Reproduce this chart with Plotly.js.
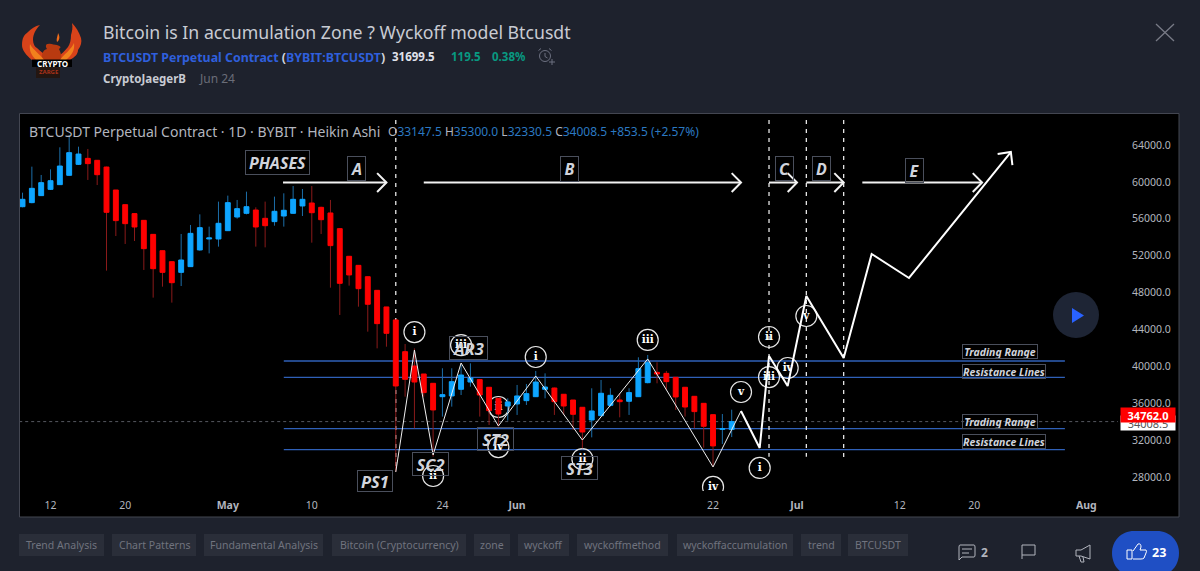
<!DOCTYPE html>
<html>
<head>
<meta charset="utf-8">
<script src="https://cdn.plot.ly/plotly-3.0.1.min.js"></script>
<style>html,body{margin:0;padding:0;background:#1e222d;overflow:hidden}#chart{width:1200px;height:571px}</style>
</head>
<body>
<div id="chart"></div>
<script>
// ---- candles (Heikin Ashi) ----
const dates = ['2021-04-09','2021-04-10','2021-04-11','2021-04-12','2021-04-13','2021-04-14','2021-04-15','2021-04-16','2021-04-17','2021-04-18','2021-04-19','2021-04-20','2021-04-21','2021-04-22','2021-04-23','2021-04-24','2021-04-25','2021-04-26','2021-04-27','2021-04-28','2021-04-29','2021-04-30',
'2021-05-01','2021-05-02','2021-05-03','2021-05-04','2021-05-05','2021-05-06','2021-05-07','2021-05-08','2021-05-09','2021-05-10','2021-05-11','2021-05-12','2021-05-13','2021-05-14','2021-05-15','2021-05-16','2021-05-17','2021-05-18','2021-05-19','2021-05-20','2021-05-21','2021-05-22','2021-05-23','2021-05-24','2021-05-25','2021-05-26','2021-05-27','2021-05-28','2021-05-29','2021-05-30','2021-05-31',
'2021-06-01','2021-06-02','2021-06-03','2021-06-04','2021-06-05','2021-06-06','2021-06-07','2021-06-08','2021-06-09','2021-06-10','2021-06-11','2021-06-12','2021-06-13','2021-06-14','2021-06-15','2021-06-16','2021-06-17','2021-06-18','2021-06-19','2021-06-20','2021-06-21','2021-06-22','2021-06-23','2021-06-24'];
const opens = [57310,57750,58510,59190,59700,60710,61900,62550,62340,61610,59120,57530,56560,55830,54310,52540,51350,50190,50810,52620,53810,53810,
54710,56190,56590,56950,56050,55690,56300,56590,57390,57710,57240,56630,54930,51930,50950,49720,48240,46440,45030,41590,40040,39170,38160,36710,36790,37510,38300,38560,37730,36530,35700,
35920,36280,36710,37510,37650,36970,36350,35560,34180,34650,35770,36350,36210,36710,38230,39350,39240,38810,37730,36750,35990,34760,33170,33147.5];
const closes = [58110,59300,59920,60130,61720,63170,63020,61980,60780,56700,55800,55470,55110,52760,50590,50190,49070,51530,54420,55040,53920,55510,
57750,57100,57310,55110,55250,56810,56920,58110,58110,56660,55900,53090,49000,49910,48420,46730,44630,43580,37870,38590,38300,37150,35270,36930,38340,39060,38740,36890,35200,34830,36140,
36790,37040,38300,37760,36170,35700,34800,32880,35160,37080,36860,36170,37150,39750,40400,39170,38340,36680,35590,35090,33500,31370,33240,34008.5];
const highs = [58830,61650,60750,61360,63750,65080,63820,63570,62370,61650,59120,57530,56590,55870,54350,52540,51350,54350,55330,56480,55150,57860,
58510,58040,58940,57240,57860,58400,58760,59550,59230,59550,57310,58040,54970,51970,50950,49720,48240,46440,45030,42420,41950,39170,38160,39790,39790,40150,40330,38590,37730,36530,36530,
37980,38090,39500,39240,37690,36970,36350,35560,37620,38520,37620,37080,37620,40980,41230,40440,39500,38810,37730,36750,35990,34760,34830,35300];
const lows = [57240,57680,58470,59120,59660,60680,61830,60210,59660,50380,54130,53270,53590,50450,47450,48640,46910,48710,50770,52540,52250,52980,
54680,56010,56480,52980,52900,55250,55150,56560,56300,53410,54350,48530,45570,48750,46470,43760,41950,42130,28580,36710,33280,36710,30210,34550,35630,36890,37800,34550,33640,33460,34110,
34730,35810,36680,36530,34730,34730,33100,31110,32300,34620,35630,34470,34730,36680,38160,38160,37440,35270,34550,33280,31180,29120,31580,32330.5];

// ---- wave lines ----
const waveThinDates = ['2021-05-19','2021-05-21','2021-05-23','2021-05-26','2021-05-30','2021-06-03','2021-06-08','2021-06-15','2021-06-22','2021-06-25'];
const waveThinPrices = [28540,41770,30390,40360,33530,38950,32010,40800,29090,35160];
const waveBoldDates = ['2021-06-25','2021-06-27','2021-06-28','2021-06-30','2021-07-02','2021-07-06','2021-07-09','2021-07-13','2021-07-23 22:00'];
const waveBoldPrices = [35160,31150,41120,37870,47630,40900,52180,49580,63240];
const waveHeadDates = ['2021-07-22 12:00','2021-07-23 22:00','2021-07-24 02:00'];
const waveHeadPrices = [63020,63240,61830];

// ---- support / resistance levels ----
const levelPrices = [40580,38810,33240,30960];
const levelStart = '2021-05-07';
const levelEnd = '2021-07-29 17:00';
const lastClose = 34008.5;
const lastPriceTag = 34762;

// ---- phase separators and arrows ----
const phaseLineDates = ['2021-05-19','2021-06-28','2021-07-02','2021-07-06'];
const phaseLineBottoms = [28650,30200,30200,30000];
const phaseLineTop = 66700;
const arrowStart = ['2021-05-06 22:00','2021-05-22','2021-06-28','2021-07-02','2021-07-08'];
const arrowTip = ['2021-05-18','2021-06-25','2021-07-01','2021-07-06','2021-07-20 20:00'];
const arrowBack = ['2021-05-17','2021-06-24','2021-06-30','2021-07-05','2021-07-19 20:00'];
const arrowPrice = 59930;
const arrowHeadSpread = 1020;

// ---- circled wave counts ----
const countDates = ['2021-05-21','2021-05-26','2021-05-30','2021-05-30','2021-05-23','2021-06-03','2021-06-08','2021-06-15','2021-06-22','2021-06-25','2021-06-27','2021-06-28','2021-06-28','2021-06-30','2021-07-02'];
const countPrices = [43720,42310,35590,31250,28110,41010,29950,42860,26920,37220,28980,43180,38840,39820,45460];
const countLabels = ['i','iii','ii','iv','ii','i','ii','iii','iv','v','i','ii','iii','iv','v'];

// ---- boxed labels ----
const boxLabels = ['PHASES','A','B','C','D','E','AR3','SC2','PS1','ST2','ST3','Trading Range','Resistance Lines','Trading Range','Resistance Lines'];
const boxDates = ['2021-05-06 07:00','2021-05-14 18:00','2021-06-06 16:00','2021-06-29 17:00','2021-07-03 16:00','2021-07-13 15:00','2021-05-26 19:00','2021-05-22 18:00','2021-05-16 18:00','2021-05-29 17:00','2021-06-07 17:00','2021-07-22 18:00','2021-07-23 05:00','2021-07-22 18:00','2021-07-23 05:00'];
const boxPrices = [62050,61470,61400,61400,61400,61200,41990,29410,27570,32120,28980,41640,39440,34050,31850];
const boxFontSizes = [16,16,16,16,16,16,16.5,16.5,16.5,16.5,16.5,10.5,10.5,10.5,10.5];
const boxWidths = [63,17,17,17,17,17,37,35,34,35,35,74,82,74,82];
const boxHeights = [23,23,24,23,23,23,22,22,20,22,22,13,13,13,13];

// ---- axes ----
const xTickDates = ['2021-04-12','2021-04-20','2021-05-01','2021-05-10','2021-05-24','2021-06-01','2021-06-22','2021-07-01','2021-07-12','2021-07-20','2021-08-01'];
const xTickLabels = ['12','20','<b>May</b>','10','24','<b>Jun</b>','22','<b>Jul</b>','12','20','<b>Aug</b>'];
const priceTicks = [28000,32000,36000,40000,44000,48000,52000,56000,60000,64000];
const xRange = ['2021-04-08 17:30','2021-08-04 09:36'];
const yRange = [26483,67361];

// ---- page text ----
const tagLabels = ['Trend Analysis','Chart Patterns','Fundamental Analysis','Bitcoin (Cryptocurrency)','zone','wyckoff','wyckoffmethod','wyckoffaccumulation','trend','BTCUSDT'];
const tagLeft = [19,112,204,332,474,518,577,677,801,848];
const tagRight = [104,196,323,466,510,569,668,793,841,908];

// ---- geometry helpers for page furniture ----
const W = 1200, H = 571, ML = 20, MR = 82, MT = 114, MB = 80;
const fx = x => (x - ML) / (W - ML - MR);
const fy = y => 1 - (y - MT) / (H - MT - MB);
// page-pixel path -> paper path (M L C Q H V Z, absolute)
const pxPath = s => {
  const toks = s.match(/[A-Za-z]|-?[\d.]+/g);
  let out = '', cmd = '', n = 0;
  for (const t of toks) {
    if (/[A-Za-z]/.test(t)) { cmd = t; n = 0; out += t; continue; }
    const v = +t;
    let val;
    if (cmd === 'H') val = fx(v);
    else if (cmd === 'V') val = fy(v);
    else { val = n % 2 === 0 ? fx(v) : fy(v); }
    out += (n ? ',' : '') + val;
    n++;
  }
  return out;
};
const FONT = '"Noto Sans", sans-serif';
const GREY = '#b2b5be';

const shapes = [];
const rect = (x0, y0, x1, y1, fill, line, layer) => shapes.push({type:'rect', xref:'paper', yref:'paper', x0:fx(x0), x1:fx(x1), y0:fy(y1), y1:fy(y0), fillcolor:fill, line:{color:line||'rgba(0,0,0,0)', width:line?1:0}, layer:layer||'below'});
const path = (d, fill, line, w, layer) => shapes.push({type:'path', xref:'paper', yref:'paper', path:pxPath(d), fillcolor:fill||'rgba(0,0,0,0)', line:{color:line||'rgba(0,0,0,0)', width:line?(w||1):0}, layer:layer||'above'});
const circ = (cx, cy, r, fill, line, w, layer) => shapes.push({type:'circle', xref:'paper', yref:'paper', x0:fx(cx-r), x1:fx(cx+r), y0:fy(cy+r), y1:fy(cy-r), fillcolor:fill||'rgba(0,0,0,0)', line:{color:line||'rgba(0,0,0,0)', width:line?(w||1):0}, layer:layer||'above'});

// chart panel
rect(19.5, 113.5, 1179, 517, '#000000', '#434651');

// close button
path('M1156,24 L1174,41 M1174,24 L1156,41', null, '#787b86', 1.3);

// logo
path('M32,60 C26,55 22,50 22,45 C22,38 24,35 28,32 C31,29 35,26 40,25 C36,29 33,34 33,40 C33,44 35,47 37,48 C41,52 45,54 47,57 L46,61 Z', '#d8431a');
path('M70,60 C75,57 78,54 78,50 C81,46 82,42 81,38 C79,32 76,27 72,23 C73,28 72,31 71,35 C71,40 70,44 68,47 C65,51 61,54 58,57 L58,61 Z', '#d8431a');
path('M42,61 C41,54 43,50 47,49 C45,46 46,44 48,44 C51,43 54,45 57,45 C60,46 62,47 59,49 C61,53 62,57 61,61 Z', '#b93a10');
path('M36,60 C31,55 29,50 30,44 C33,50 40,54 44,60 Z', '#f2811d');
path('M66,60 C72,55 75,50 74,43 C71,50 64,54 60,60 Z', '#f2811d');
path('M57,42 C56,38 58,36 58,33 C60,36 60,40 57,42 Z', '#ef6c1a');
rect(32, 59.5, 72, 67, '#000000', null, 'above');
rect(36, 67, 60, 78, '#241611', null, 'above');

// alarm icon
circ(545, 56, 5.5, null, '#6c7080', 1);
path('M541,48.5 L538.5,50.5 M549,48.5 L551.5,50.5 M545,53 V56.5 L547.5,58 M552,59 V65 M549,62 H555', null, '#6c7080', 1);

// tags
tagLabels.forEach((t, i) => rect(tagLeft[i], 534, tagRight[i], 556, '#2a2e39'));

// footer icons
path('M960,545 H974 Q975,545 975,547 V555 Q975,557 974,557 H962 L959,560 V547 Q959,545 960,545 Z M962,549 H972 M962,553 H969', null, GREY, 1);
path('M1022,559 V545 H1035 V555 H1022', null, GREY, 1);
path('M1090,545 L1081,550 H1076 V556 H1081 L1090,559 Z M1079,556 L1081,562 H1084 L1083,557', null, GREY, 1);
path('M1134,531 H1157 C1170,531 1179,541 1179,553 C1179,566 1170,576 1157,576 H1134 C1121,576 1112,566 1112,553 C1112,541 1121,531 1134,531 Z', '#1f4fc4');
path('M1127,550 H1132 V559 H1127 Z M1133,551 L1138,544 Q1141,543 1141,547 L1140,550 H1146 Q1147,551 1146,553 L1144,558 Q1143,559 1141,559 H1133', null, '#ffffff', 1);

// play button
circ(1076, 315, 23, '#1e2535');
path('M1072,308 L1084,315.5 L1072,323 Z', '#2962ff');

// tick beside the price tag
path('M1122,415 H1125', null, '#ffffff', 1);

// text helper (page position)
const annotations = [];
const pageText = (x, y, text, size, color, anchor, extra) => annotations.push(Object.assign({
  xref:'paper', yref:'paper', x:fx(x), y:fy(y), xanchor:anchor||'left', yanchor:'middle', showarrow:false,
  text, font:{family:FONT, size, color}, align:anchor||'left', borderpad:0
}, extra||{}));

pageText(101.5, 32, 'Bitcoin is In accumulation Zone ? Wyckoff model Btcusdt', 17.7, '#c8cbd3');
pageText(102, 57, '<b><span style="color:#2f5fdc">BTCUSDT Perpetual Contract</span> (<span style="color:#2f5fdc">BYBIT:BTCUSDT</span>)</b>', 12.4, '#d1d4dc');
pageText(391, 56, '<b>31699.5</b>', 11.5, '#e0e3eb');
pageText(450, 56, '<b>119.5</b>', 11.5, '#089981');
pageText(491, 56, '<b>0.38%</b>', 11.5, '#089981');
pageText(102, 78, '<b>CryptoJaegerB</b>', 11.5, '#c8cbd3');
pageText(198, 78, 'Jun 24', 12, '#6a6d78');
pageText(28, 131, 'BTCUSDT Perpetual Contract · 1D · BYBIT · Heikin Ashi', 14, GREY);
const V = s => '<span style="color:#2b79c2">' + s + '</span>';
pageText(387, 131, 'O' + V('33147.5') + ' H' + V('35300.0') + ' L' + V('32330.5') + ' C' + V('34008.5') + V(' +853.5 (+2.57%)'), 12, GREY);
tagLabels.forEach((t, i) => pageText((tagLeft[i] + tagRight[i]) / 2, 545, t, 10.5, '#70737e', 'center'));
pageText(984, 552, '<b>2</b>', 12, GREY, 'center');
pageText(1159, 552, '<b>23</b>', 12.5, '#ffffff', 'center');
pageText(52, 63.3, '<b>CRYPTO</b>', 8, '#ffffff', 'center');
pageText(48, 72, '<b>ZARGE</b>', 6, '#a8321a', 'center');

// boxed chart labels
boxLabels.forEach((t, i) => {
  annotations.push({xref:'x', yref:'y', x:boxDates[i], y:boxPrices[i], xanchor:'center', yanchor:'middle', showarrow:false,
    text:t, font:{family:FONT, size:boxFontSizes[i], color:'#d1d4dc', style:'italic', weight:700},
    width:boxWidths[i], height:boxHeights[i], align:'center', valign:'middle',
    bordercolor:'#4a4f5c', borderwidth:1, borderpad:0, bgcolor:'rgba(0,0,0,0)'});
});

// price tags
const priceTag = (y, text, bg, color) => annotations.push({xref:'paper', yref:'y', x:fx(1175.5), y, xanchor:'right', yanchor:'middle', showarrow:false, text, width:54, height:14, align:'center',
  font:{family:FONT, size:11, color}, bgcolor:bg, borderpad:0});
priceTag(lastClose - 180, lastClose.toFixed(1), '#ffffff', '#555555');
priceTag(lastPriceTag, '<b>' + lastPriceTag.toFixed(1) + '</b>', '#ff0000', '#ffffff');

// ---- traces ----
const traces = [];
const lineTrace = (x, y, color, width, dash, top) => ({type:'scatter', mode:'lines', x, y, xaxis:top?'x2':'x', yaxis:top?'y2':'y', line:{color, width, dash:dash||'solid'}, hoverinfo:'skip', showlegend:false});

// last close dotted line
traces.push(lineTrace(['2021-04-08', '2021-08-05'], [lastClose, lastClose], '#55585f', 1, 'dot'));
// levels
levelPrices.forEach(p => traces.push(lineTrace([levelStart, levelEnd], [p, p], '#2f60b8', 1.3)));
// phase separators
phaseLineDates.forEach((d, i) => traces.push(lineTrace([d, d], [phaseLineTop, phaseLineBottoms[i]], '#e6e6e6', 1.3, '4px,5px')));
// circled counts
traces.push({type:'scatter', mode:'markers+text', x:countDates, y:countPrices, text:countLabels, textposition:'middle center',
  textfont:{family:'"DejaVu Serif", serif', size:10.5, color:'#ffffff', weight:700},
  marker:{symbol:'circle', size:21, color:'rgba(0,0,0,0)', line:{color:'#e6e6e6', width:1.2}}, hoverinfo:'skip', showlegend:false});
// wicks: one vertical run per day, dark shade of the candle colour
const UP_W = '#1c6ea8', DN_W = '#8a1a1a', UP = '#0ea5ff', DN = '#ff0000';
[[true, UP_W], [false, DN_W]].forEach(([up, col]) => {
  const wx = [], wy = [];
  dates.forEach((d, i) => { if ((closes[i] >= opens[i]) === up) { wx.push(d, d, null); wy.push(highs[i], lows[i], null); } });
  traces.push(lineTrace(wx, wy, col, 1));
});
// bodies, on an overlaid copy of the axes so they cover the wicks and levels
traces.push({type:'candlestick', x:dates, open:opens, close:closes, xaxis:'x2', yaxis:'y2',
  high:opens.map((o, i) => Math.max(o, closes[i])), low:opens.map((o, i) => Math.min(o, closes[i])),
  increasing:{line:{color:UP, width:1}, fillcolor:UP}, decreasing:{line:{color:DN, width:1}, fillcolor:DN}, hoverinfo:'skip', showlegend:false});
// waves
traces.push(lineTrace(waveThinDates, waveThinPrices, '#f0f0f0', 1, null, true));
traces.push(lineTrace(waveBoldDates, waveBoldPrices, '#ffffff', 2, null, true));
traces.push(lineTrace(waveHeadDates, waveHeadPrices, '#ffffff', 2, null, true));
// arrows
const ax = [], ay = [];
arrowStart.forEach((s, i) => {
  ax.push(s, arrowTip[i], null, arrowBack[i], arrowTip[i], arrowBack[i], null);
  ay.push(arrowPrice, arrowPrice, null, arrowPrice + arrowHeadSpread, arrowPrice, arrowPrice - arrowHeadSpread, null);
});
traces.push(lineTrace(ax, ay, '#f2f2f2', 2, null, true));

const layout = {
  width:W, height:H, autosize:false,
  margin:{l:ML, r:MR, t:MT, b:MB, pad:0},
  paper_bgcolor:'#1e222d', plot_bgcolor:'#000000',
  showlegend:false, boxgap:0.25, hovermode:false, dragmode:false,
  font:{family:FONT, color:GREY},
  xaxis:{type:'date', range:xRange, rangeslider:{visible:false}, showgrid:false, zeroline:false, showline:false,
    tickmode:'array', tickvals:xTickDates, ticktext:xTickLabels, ticks:'', ticklabelstandoff:6, tickfont:{family:FONT, size:10.5, color:GREY}},
  yaxis:{side:'right', range:yRange, showgrid:false, zeroline:false, showline:false, tickmode:'array', tickvals:priceTicks,
    ticktext:priceTicks.map(v => v.toFixed(1)), ticks:'', ticklabelstandoff:13, tickfont:{family:FONT, size:10.5, color:GREY}},
  xaxis2:{type:'date', overlaying:'x', anchor:'y2', range:xRange, rangeslider:{visible:false}, visible:false},
  yaxis2:{overlaying:'y', anchor:'x2', side:'right', range:yRange, visible:false},
  shapes, annotations
};
Plotly.newPlot('chart', traces, layout, {displayModeBar:false, staticPlot:true});
</script>
</body>
</html>
